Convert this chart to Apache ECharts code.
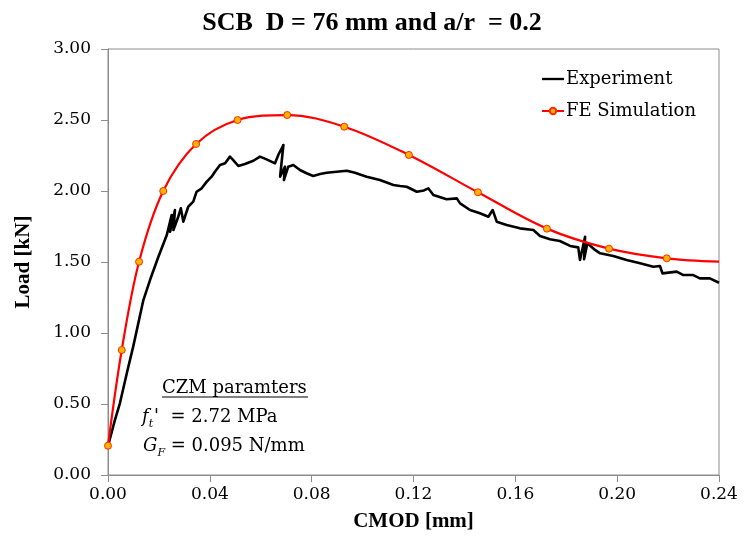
<!DOCTYPE html>
<html>
<head>
<meta charset="utf-8">
<title>SCB D = 76 mm</title>
<script src="https://cdn.jsdelivr.net/npm/echarts@6/dist/echarts.min.js"></script>
<style>
    html, body { margin: 0; padding: 0; background: #fff; }
    #chart { width: 744px; height: 544px; }
</style>
</head>
<body>
<div id="chart"></div>
<script>
// 试验曲线 (CMOD mm, Load kN)
var expCmod = [0.0000, 0.0027, 0.0047, 0.0075, 0.0099, 0.0139, 0.0165, 0.0198, 0.0231, 0.0250,
    0.0244, 0.0263, 0.0257, 0.0276, 0.0286, 0.0296, 0.0315, 0.0335, 0.0348, 0.0368,
    0.0388, 0.0407, 0.0420, 0.0440, 0.0460, 0.0479, 0.0492, 0.0512, 0.0538, 0.0571,
    0.0597, 0.0623, 0.0656, 0.0669, 0.0689, 0.0676, 0.0695, 0.0691, 0.0708, 0.0728,
    0.0754, 0.0780, 0.0806, 0.0833, 0.0859, 0.0938, 0.0970, 0.1016, 0.1068, 0.1121,
    0.1147, 0.1173, 0.1213, 0.1241, 0.1258, 0.1278, 0.1330, 0.1370, 0.1383, 0.1422,
    0.1461, 0.1494, 0.1511, 0.1527, 0.1566, 0.1618, 0.1671, 0.1697, 0.1736, 0.1775,
    0.1815, 0.1847, 0.1854, 0.1874, 0.1870, 0.1883, 0.1913, 0.1933, 0.1985, 0.2037,
    0.2090, 0.2142, 0.2168, 0.2178, 0.2234, 0.2260, 0.2299, 0.2325, 0.2364, 0.2400];
var expLoad = [0.204, 0.387, 0.507, 0.725, 0.904, 1.232, 1.373, 1.537, 1.690, 1.831,
    1.713, 1.866, 1.725, 1.819, 1.878, 1.784, 1.889, 1.925, 1.995, 2.019,
    2.066, 2.101, 2.136, 2.183, 2.195, 2.242, 2.218, 2.176, 2.190, 2.213,
    2.242, 2.223, 2.195, 2.254, 2.324, 2.101, 2.171, 2.077, 2.171, 2.183,
    2.148, 2.125, 2.106, 2.120, 2.129, 2.143, 2.129, 2.101, 2.077, 2.042,
    2.035, 2.030, 1.995, 2.004, 2.019, 1.972, 1.942, 1.948, 1.913, 1.866,
    1.843, 1.819, 1.866, 1.784, 1.761, 1.737, 1.725, 1.683, 1.660, 1.648,
    1.613, 1.603, 1.514, 1.678, 1.519, 1.632, 1.585, 1.561, 1.542, 1.514,
    1.491, 1.467, 1.472, 1.420, 1.432, 1.408, 1.408, 1.385, 1.385, 1.354];

// 有限元模拟曲线，最后一点无标记
var simCmod = [0.0000, 0.0054, 0.0122, 0.0217, 0.0346, 0.0509, 0.0704, 0.0928, 0.1182,
    0.1453, 0.1724, 0.1968, 0.2195, 0.2400];
var simLoad = [0.206, 0.880, 1.502, 2.000, 2.331, 2.500, 2.535, 2.453, 2.254,
    1.991, 1.735, 1.594, 1.526, 1.502];

var xTicks = [0, 0.04, 0.08, 0.12, 0.16, 0.20, 0.24];
var yTicks = [0, 0.5, 1.0, 1.5, 2.0, 2.5, 3.0];

var serif = 'DejaVu Serif';
var boldSerif = 'Liberation Serif';

function pairs(xs, ys){
    var out = [];
    for (var i = 0; i < xs.length; i++) {
        out.push([xs[i], ys[i]]);
    }
    return out;
}

function simData(){
    var out = [];
    for (var i = 0; i < simCmod.length; i++) {
        var item = {value: [simCmod[i], simLoad[i]]};
        if (i === simCmod.length - 1) {
            item.symbol = 'none';
        }
        out.push(item);
    }
    return out;
}

var axisGray = '#8c8c8c';

var option = {
    animation: false,
    backgroundColor: '#fff',
    title: {
        text: 'SCB  D = 76 mm and a/r  = 0.2',
        left: 'center',
        top: 5,
        textStyle: {
            fontFamily: boldSerif,
            fontWeight: 'bold',
            fontSize: 26,
            color: '#000'
        }
    },
    legend: {
        orient: 'vertical',
        left: 541,
        top: 70,
        padding: 0,
        itemWidth: 22,
        itemHeight: 8,
        itemGap: 14,
        textStyle: {
            fontFamily: serif,
            fontSize: 18,
            color: '#000',
            padding: [0, 0, 0, -3]
        },
        data: [
            {name: 'Experiment', icon: 'path://M0,0 L30,0 L30,3.2 L0,3.2 Z', itemStyle: {color: '#000'}},
            {name: 'FE Simulation'}
        ]
    },
    grid: {
        left: 108,
        right: 25,
        top: 49,
        bottom: 69,
        show: true,
        borderColor: axisGray,
        borderWidth: 1,
        backgroundColor: 'transparent'
    },
    xAxis: {
        type: 'value',
        min: xTicks[0],
        max: xTicks[xTicks.length - 1],
        interval: 0.04,
        name: 'CMOD [mm]',
        nameLocation: 'middle',
        nameGap: 36,
        nameTextStyle: {
            fontFamily: boldSerif,
            fontWeight: 'bold',
            fontSize: 21,
            color: '#000'
        },
        axisLine: {show: true, lineStyle: {color: axisGray, width: 1}},
        axisTick: {show: true, inside: false, length: 7, lineStyle: {color: axisGray}},
        splitLine: {show: false},
        axisLabel: {
            margin: 11,
            fontFamily: serif,
            fontSize: 17,
            color: '#000',
            formatter: function(v){ return v.toFixed(2); }
        }
    },
    yAxis: {
        type: 'value',
        min: yTicks[0],
        max: yTicks[yTicks.length - 1],
        interval: 0.5,
        name: 'Load [kN]',
        nameLocation: 'middle',
        nameGap: 74,
        nameTextStyle: {
            fontFamily: boldSerif,
            fontWeight: 'bold',
            fontSize: 21,
            color: '#000'
        },
        axisLine: {show: true, lineStyle: {color: axisGray, width: 1}},
        axisTick: {show: true, inside: false, length: 7, lineStyle: {color: axisGray}},
        splitLine: {show: false},
        axisLabel: {
            margin: 17,
            fontFamily: serif,
            fontSize: 17,
            color: '#000',
            formatter: function(v){ return v.toFixed(2); }
        }
    },
    series: [
        {
            name: 'Experiment',
            type: 'line',
            data: pairs(expCmod, expLoad),
            symbol: 'none',
            showSymbol: false,
            lineStyle: {color: '#000', width: 2.6, join: 'round'},
            itemStyle: {color: '#000'},
            z: 2
        },
        {
            name: 'FE Simulation',
            type: 'line',
            data: simData(),
            smooth: 0.35,
            symbol: 'circle',
            symbolSize: 7,
            lineStyle: {color: '#ff0000', width: 2.2},
            itemStyle: {color: '#ffb400', borderColor: '#ff2a00', borderWidth: 1},
            z: 3
        }
    ],
    graphic: [
        {
            type: 'text',
            x: 162,
            y: 388,
            style: {
                text: 'CZM paramters',
                font: '18px "DejaVu Serif"',
                fill: '#000',
                verticalAlign: 'middle'
            }
        },
        {
            type: 'line',
            shape: {x1: 162, y1: 397, x2: 308, y2: 397},
            style: {stroke: '#000', lineWidth: 1}
        },
        {
            type: 'text',
            x: 142,
            y: 417,
            style: {
                text: "{i|f}{s|t}{i|'}  = 2.72 MPa",
                font: '18px "DejaVu Serif"',
                fill: '#000',
                verticalAlign: 'middle',
                rich: {
                    i: {fontFamily: serif, fontStyle: 'italic', fontSize: 18, lineHeight: 26, verticalAlign: 'middle'},
                    s: {fontFamily: serif, fontStyle: 'italic', fontSize: 11, lineHeight: 26, verticalAlign: 'bottom', padding: [0, 1, 0, 0]}
                }
            }
        },
        {
            type: 'text',
            x: 143,
            y: 446,
            style: {
                text: '{i|G}{s|F} = 0.095 N/mm',
                font: '18px "DejaVu Serif"',
                fill: '#000',
                verticalAlign: 'middle',
                rich: {
                    i: {fontFamily: serif, fontStyle: 'italic', fontSize: 18, lineHeight: 26, verticalAlign: 'middle'},
                    s: {fontFamily: serif, fontStyle: 'italic', fontSize: 11, lineHeight: 26, verticalAlign: 'bottom'}
                }
            }
        }
    ]
};

var myChart = echarts.init(document.getElementById('chart'), null, {renderer: 'canvas'});
myChart.setOption(option);
</script>
</body>
</html>
